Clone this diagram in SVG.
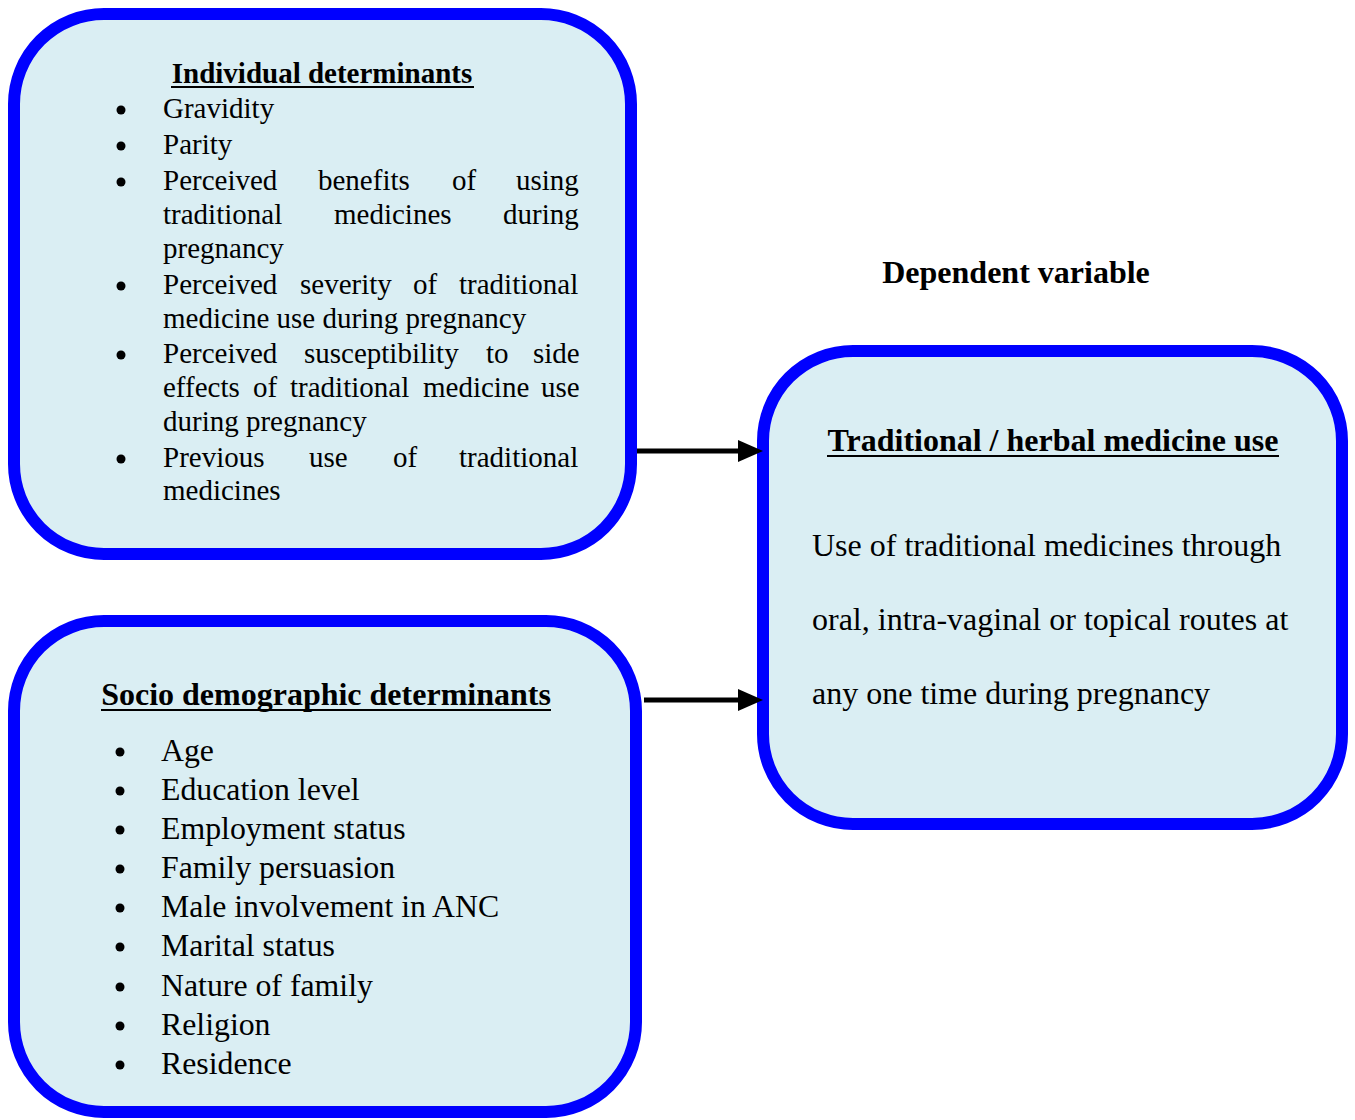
<svg xmlns="http://www.w3.org/2000/svg" width="1355" height="1120" viewBox="0 0 1355 1120">
<style>
.box{fill:#DAEEF3;stroke:#0000FF;stroke-width:12}
.t{font-family:"Liberation Serif","Times New Roman",serif;fill:#000}
.b{font-weight:bold}
.u{stroke:#000;stroke-width:2}
.s1{font-size:29px}
.s2{font-size:31.8px}
.s3{font-size:32px}
.conn{stroke:#000;stroke-width:5;fill:none}
</style>
<rect width="1355" height="1120" fill="#fff"/>
<g id="individual">
<rect class="box" x="14" y="14" width="617" height="540" rx="90" ry="90"/>
<text class="t b s1" x="322" y="83" text-anchor="middle">Individual determinants</text>
<line class="u" x1="171" y1="87" x2="474" y2="87"/>
<g class="t s1">
<circle cx="121" cy="110" r="4.5"/><text x="163" y="118">Gravidity</text>
<circle cx="121" cy="146" r="4.5"/><text x="163" y="154">Parity</text>
<circle cx="121" cy="182" r="4.5"/><text y="190"><tspan x="163">Perceived</tspan><tspan x="318">benefits</tspan><tspan x="452">of</tspan><tspan x="516">using</tspan></text>
<text y="224"><tspan x="163">traditional</tspan><tspan x="334">medicines</tspan><tspan x="503">during</tspan></text>
<text x="163" y="258">pregnancy</text>
<circle cx="121" cy="286" r="4.5"/><text y="294"><tspan x="163">Perceived</tspan><tspan x="300">severity</tspan><tspan x="413">of</tspan><tspan x="459">traditional</tspan></text>
<text x="163" y="328">medicine use during pregnancy</text>
<circle cx="121" cy="355" r="4.5"/><text y="363"><tspan x="163">Perceived</tspan><tspan x="304">susceptibility</tspan><tspan x="486">to</tspan><tspan x="533">side</tspan></text>
<text y="397"><tspan x="163">effects</tspan><tspan x="253">of</tspan><tspan x="290">traditional</tspan><tspan x="423">medicine</tspan><tspan x="541">use</tspan></text>
<text x="163" y="431">during pregnancy</text>
<circle cx="121" cy="459" r="4.5"/><text y="467"><tspan x="163">Previous</tspan><tspan x="309">use</tspan><tspan x="393">of</tspan><tspan x="459">traditional</tspan></text>
<text x="163" y="500">medicines</text>
</g>
</g>
<g id="socio">
<rect class="box" x="14" y="621" width="622" height="491" rx="90" ry="90"/>
<text class="t b s3" x="326" y="705" text-anchor="middle">Socio demographic determinants</text>
<line class="u" x1="101" y1="710" x2="551" y2="710"/>
<g class="t s2">
<circle cx="120" cy="752" r="4.5"/><text x="161" y="761">Age</text>
<circle cx="120" cy="791" r="4.5"/><text x="161" y="800">Education level</text>
<circle cx="120" cy="830" r="4.5"/><text x="161" y="839">Employment status</text>
<circle cx="120" cy="869" r="4.5"/><text x="161" y="878">Family persuasion</text>
<circle cx="120" cy="908" r="4.5"/><text x="161" y="917">Male involvement in ANC</text>
<circle cx="120" cy="947" r="4.5"/><text x="161" y="956">Marital status</text>
<circle cx="120" cy="987" r="4.5"/><text x="161" y="996">Nature of family</text>
<circle cx="120" cy="1026" r="4.5"/><text x="161" y="1035">Religion</text>
<circle cx="120" cy="1065" r="4.5"/><text x="161" y="1074">Residence</text>
</g>
</g>
<g id="dependent-label">
<text class="t b s3" x="1016" y="283" text-anchor="middle">Dependent variable</text>
</g>
<g id="dependent">
<rect class="box" x="763" y="351" width="579" height="473" rx="90" ry="90"/>
<text class="t b s3" x="1053" y="451" text-anchor="middle">Traditional / herbal medicine use</text>
<line class="u" x1="827" y1="456" x2="1279" y2="456"/>
<g class="t s3">
<text x="812" y="556">Use of traditional medicines through</text>
<text x="812" y="630">oral, intra-vaginal or topical routes at</text>
<text x="812" y="704">any one time during pregnancy</text>
</g>
</g>
<g id="connectors">
<line class="conn" x1="637" y1="451" x2="742" y2="451"/>
<polygon points="738,440 763,451 738,462" fill="#000"/>
<line class="conn" x1="644" y1="700" x2="742" y2="700"/>
<polygon points="738,689 763,700 738,711" fill="#000"/>
</g>
</svg>
